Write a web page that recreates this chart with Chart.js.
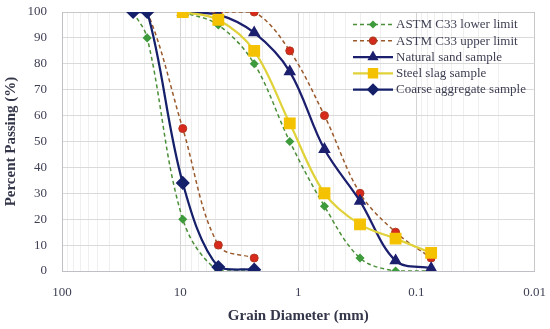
<!DOCTYPE html>
<html>
<head>
<meta charset="utf-8">
<script src="https://cdn.jsdelivr.net/npm/chart.js@4/dist/chart.umd.min.js"></script>
<style>
  body { margin: 0; background: #fff; }
  #wrap { width: 550px; height: 329px; }
</style>
</head>
<body>
<div id="wrap"><canvas id="grading"></canvas></div>
<script>
// sieve sizes (mm)
const coarseSieves = [25, 19, 9.5, 4.75, 2.36];
const fineSieves   = [9.5, 4.75, 2.36, 1.18, 0.6, 0.3, 0.15, 0.075];

// percent passing
const lowerCoarse  = [100, 90, 20, 0, 0];
const upperCoarse  = [100, 100, 55, 10, 5];
const lowerFine    = [100, 95, 80, 50, 25, 5, 0, 0];
const upperFine    = [100, 100, 100, 85, 60, 30, 15, 5];
const naturalSand  = [100, 99, 92, 77, 47, 27, 4, 1];
const steelSlag    = [100, 97, 85, 57, 30, 18, 12.5, 7];
const coarseAgg    = [100, 100, 34, 1.5, 0.5];

const xTickLabels = [100, 10, 1, 0.1, 0.01];
const yTicks      = [0, 10, 20, 30, 40, 50, 60, 70, 80, 90, 100];

const FONT = "'Liberation Serif', 'Times New Roman', serif";
const TEXT = '#3d3f52';

function pts(xs, ys){
  return xs.map((x, i) => ({ x: x, y: ys[i] }));
}
// coarse + gap + fine in one series
function limits(c, f){
  return pts(coarseSieves, c).concat([{ x: 5, y: null }], pts(fineSieves, f));
}
function isMajor(v){
  return xTickLabels.some(t => Math.abs(Math.log10(v) - Math.log10(t)) < 1e-6);
}
// let layout.padding alone decide the plot box
function noPad(scale){
  scale.paddingTop = 0; scale.paddingBottom = 0;
  scale.paddingLeft = 0; scale.paddingRight = 0;
}

// grid lines at 1..9 x 10^n
const gridValues = [];
for (let e = -2; e <= 1; e++) {
  for (let s = 1; s <= 9; s++) gridValues.push(+(s * Math.pow(10, e)).toPrecision(3));
}
gridValues.push(100);

const datasets = [
  {
    label: 'ASTM C33 lower limit', data: limits(lowerCoarse, lowerFine),
    borderColor: '#4b8f38', borderWidth: 1.5, borderDash: [4, 3],
    pointStyle: 'rectRot', pointRadius: 3.5, pointBackgroundColor: '#3e9b3c', pointBorderColor: '#3e9b3c',
    order: 5
  },
  {
    label: 'ASTM C33 upper limit', data: limits(upperCoarse, upperFine),
    borderColor: '#9a5a2c', borderWidth: 1.5, borderDash: [4, 3],
    pointStyle: 'circle', pointRadius: 4, pointBackgroundColor: '#d8291d', pointBorderColor: '#b0381e', pointBorderWidth: 1,
    order: 4
  },
  {
    label: 'Natural sand sample', data: pts(fineSieves, naturalSand),
    borderColor: '#1b1f6e', borderWidth: 2.25,
    pointStyle: 'triangle', pointRadius: 5, pointBackgroundColor: '#1b1f6e', pointBorderColor: '#1b1f6e',
    order: 3
  },
  {
    label: 'Steel slag sample', data: pts(fineSieves, steelSlag),
    borderColor: '#e0d23a', borderWidth: 2.25,
    pointStyle: 'rect', pointRadius: 6.8, pointBackgroundColor: '#f4c200', pointBorderColor: '#f4c200',
    order: 2
  },
  {
    label: 'Coarse aggregate sample', data: pts(coarseSieves, coarseAgg),
    borderColor: '#15206a', borderWidth: 2.25,
    pointStyle: 'rectRot', pointRadius: 5.5, pointBackgroundColor: '#15206a', pointBorderColor: '#15206a',
    order: 1
  }
];
datasets.forEach(d => { d.tension = 0.35; d.fill = false; d.spanGaps = false; });

// legend drawn inside the plot, line + marker + text
const insideLegend = {
  id: 'insideLegend',
  afterDraw(chart){
    const ctx = chart.ctx;
    const x0 = 353, x1 = 393, y0 = 24.5, step = 16.25;
    ctx.save();
    chart.data.datasets.forEach((d, i) => {
      const y = y0 + i * step;
      ctx.beginPath();
      ctx.setLineDash(d.borderDash || []);
      ctx.strokeStyle = d.borderColor;
      ctx.lineWidth = d.borderWidth;
      ctx.moveTo(x0, y); ctx.lineTo(x1, y);
      ctx.stroke();
      ctx.setLineDash([]);
      ctx.fillStyle = d.pointBackgroundColor;
      ctx.strokeStyle = d.pointBorderColor;
      Chart.helpers.drawPoint(ctx, {
        pointStyle: d.pointStyle, radius: d.pointRadius * 0.85, rotation: 0, borderWidth: d.pointBorderWidth || 1
      }, (x0 + x1) / 2, y);
      ctx.fillStyle = TEXT;
      ctx.font = '13px ' + FONT;
      ctx.textBaseline = 'middle';
      ctx.textAlign = 'left';
      ctx.fillText(d.label, x1 + 3, y + 0.5);
    });
    ctx.restore();
  }
};

const ctx = document.getElementById('grading').getContext('2d');
const chart = new Chart(ctx, {
  type: 'line',
  data: { datasets: datasets },
  options: {
    responsive: true,
    maintainAspectRatio: false,
    animation: false,
    layout: { padding: { top: 12, right: 15.5, left: 0, bottom: 0 } },
    plugins: {
      legend: { display: false },
      tooltip: { enabled: false }
    },
    scales: {
      x: {
        type: 'logarithmic',
        reverse: true,
        min: 0.01,
        max: 100,
        afterBuildTicks: (scale) => { scale.ticks = gridValues.map(v => ({ value: v })); },
        afterFit: (scale) => { scale.height = 58; noPad(scale); },
        ticks: {
          autoSkip: false, maxRotation: 0, padding: 14,
          color: TEXT, font: { family: FONT, size: 13 },
          callback: (v) => isMajor(v) ? String(v) : ''
        },
        grid: {
          drawTicks: false,
          color: (c) => {
            if (!c.tick) return '#ececec';
            if (Math.abs(c.tick.value - 0.01) < 1e-9) return '#c8c8c8';
            return isMajor(c.tick.value) ? '#d4d4d4' : '#efefef';
          }
        },
        border: { color: '#bfbfc6', width: 1 },
        title: {
          display: true, text: 'Grain Diameter (mm)', color: '#34364a',
          font: { family: FONT, size: 15, weight: 'bold' }, padding: { top: 0, bottom: 4 }
        }
      },
      y: {
        min: 0,
        max: 100,
        afterBuildTicks: (scale) => { scale.ticks = yTicks.map(v => ({ value: v })); },
        afterFit: (scale) => { scale.width = 62; noPad(scale); },
        ticks: { padding: 15, color: TEXT, font: { family: FONT, size: 13 } },
        grid: {
          drawTicks: false,
          color: (c) => (c.tick && c.tick.value === 100) ? '#c8c8c8' : '#dadada'
        },
        border: { color: '#bfbfc6', width: 1 },
        title: {
          display: true, text: 'Percent Passing (%)', color: '#34364a',
          font: { family: FONT, size: 15, weight: 'bold' }, padding: { top: 2, bottom: 0 }
        }
      }
    }
  },
  plugins: [insideLegend]
});
</script>
</body>
</html>
